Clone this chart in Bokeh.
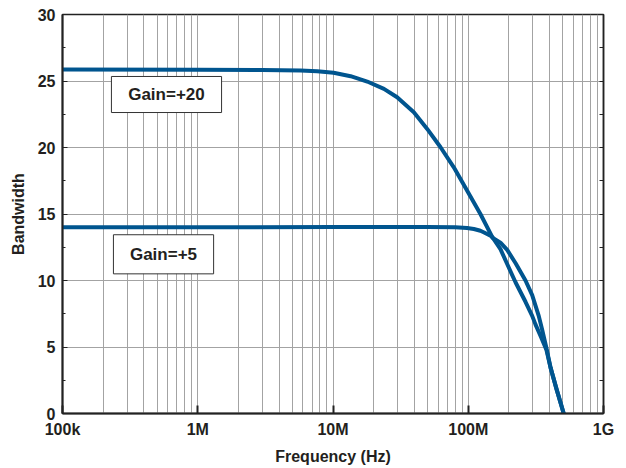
from bokeh.plotting import figure
from bokeh.models import FixedTicker, LinearAxis, Range1d
from bokeh.core.properties import value
from bokeh.embed import file_html
from bokeh.resources import INLINE

# ---- data ----
freq_g20 = [1e5, 1e6, 3e6, 5.75e6, 7.64e6, 10.1e6, 13.5e6, 17.9e6, 23.8e6, 29.8e6,
            39.6e6, 49.7e6, 62.4e6, 78.2e6, 98.2e6, 123e6, 150e6, 173e6, 194e6,
            224e6, 265e6, 297e6, 314e6, 345e6, 378e6, 406e6, 449e6, 508e6]
bw_g20 = [25.87, 25.85, 25.82, 25.79, 25.74, 25.62, 25.36, 24.96, 24.41, 23.78,
          22.65, 21.4, 20.02, 18.51, 16.75, 15.0, 13.3, 12.36, 11.24,
          9.85, 8.4, 7.34, 6.7, 5.75, 4.8, 3.45, 1.85, 0.0]

freq_g5 = [1e5, 1e6, 1e7, 50e6, 80e6, 98e6, 110e6, 123e6, 131e6, 146e6, 152e6,
           173e6, 194e6, 224e6, 265e6, 297e6, 332e6, 352e6, 378e6, 406e6, 449e6, 508e6]
bw_g5 = [14.0, 14.0, 14.02, 14.03, 14.0, 13.95, 13.87, 13.74, 13.61, 13.37, 13.2,
         12.85, 12.3, 11.3, 10.0, 8.9, 7.34, 6.3, 4.95, 3.45, 1.85, 0.0]

series_labels = ["Gain=+20", "Gain=+5"]

x_tick_values = [1e5, 1e6, 1e7, 1e8, 1e9]
x_tick_labels = ["100k", "1M", "10M", "100M", "1G"]
y_tick_values = [0, 5, 10, 15, 20, 25, 30]
y_minor_values = [2.5, 7.5, 12.5, 17.5, 22.5, 27.5]
x_minor_values = [m * d for d in [1e5, 1e6, 1e7, 1e8] for m in range(2, 10)]

FONT = "Liberation Sans"
TXT = "#231f20"
LINE = "#00558f"
GRID = "#a3a3a3"

p = figure(width=626, height=468, x_axis_type="log",
           x_range=Range1d(1e5, 1e9), y_range=Range1d(0, 30),
           output_backend="svg", toolbar_location=None,
           min_border_left=62, min_border_right=23,
           min_border_top=14, min_border_bottom=55)

p.outline_line_color = "#222222"
p.outline_line_width = 1.5
p.background_fill_color = "white"
p.border_fill_color = "white"

# x axis
xt = FixedTicker(ticks=x_tick_values, minor_ticks=x_minor_values)
p.xaxis.ticker = xt
p.xgrid.ticker = xt
p.xaxis.major_label_overrides = {int(v): l for v, l in zip(x_tick_values, x_tick_labels)}
p.xaxis.axis_label = "Frequency (Hz)"
p.xaxis.major_tick_in = 8
p.xaxis.major_tick_out = 0
p.xaxis.minor_tick_in = 0
p.xaxis.minor_tick_out = 0
p.xaxis.axis_line_width = 2
p.xaxis.major_tick_line_width = 2
p.xaxis.major_label_standoff = 7

# y axis
yt = FixedTicker(ticks=y_tick_values, minor_ticks=y_minor_values)
p.yaxis.ticker = yt
p.ygrid.ticker = yt
p.yaxis.axis_label = "Bandwidth"
p.yaxis.major_tick_in = 5
p.yaxis.major_tick_out = 0
p.yaxis.minor_tick_in = 3
p.yaxis.minor_tick_out = 0
p.yaxis.axis_line_width = 2
p.yaxis.major_label_standoff = 7
p.yaxis.axis_label_standoff = 8

for ax in [p.xaxis, p.yaxis]:
    ax.major_label_text_font = FONT
    ax.major_label_text_font_style = "bold"
    ax.major_label_text_font_size = "16px"
    ax.major_label_text_color = TXT
    ax.axis_label_text_font = FONT
    ax.axis_label_text_font_style = "bold"
    ax.axis_label_text_font_size = "16px"
    ax.axis_label_text_color = TXT
    ax.axis_line_color = "#222222"
    ax.major_tick_line_color = "#222222"
    ax.minor_tick_line_color = "#222222"
p.xaxis.axis_label_standoff = 7

# right axis: inside ticks only, no labels
right_axis = LinearAxis(ticker=FixedTicker(ticks=[], minor_ticks=y_tick_values + y_minor_values),
                        minor_tick_in=4, minor_tick_out=0,
                        major_tick_in=0, major_tick_out=0,
                        minor_tick_line_color="#222222",
                        axis_line_color="#222222", axis_line_width=1.5)
p.add_layout(right_axis, "right")

# grid
p.xgrid.grid_line_color = GRID
p.xgrid.minor_grid_line_color = GRID
p.xgrid.grid_line_width = 1
p.xgrid.minor_grid_line_width = 1
p.ygrid.grid_line_color = GRID
p.ygrid.grid_line_width = 1

# curves
p.line(freq_g20, bw_g20, line_color=LINE, line_width=4, line_join="round", line_cap="round")
p.line(freq_g5, bw_g5, line_color=LINE, line_width=4, line_join="round", line_cap="round")

# annotation boxes
p.quad(left=[230e3, 238e3], right=[1.5e6, 1.31e6], bottom=[22.63, 10.5], top=[25.34, 13.44],
       fill_color="white", line_color="#333333", line_width=1)
p.text(x=[587e3, 558e3], y=[23.98, 11.97], text=series_labels,
       text_font=value(FONT), text_font_style="bold", text_font_size="17px",
       text_color=TXT, text_align="center", text_baseline="middle")

open("out.html", "w").write(file_html(p, INLINE))
